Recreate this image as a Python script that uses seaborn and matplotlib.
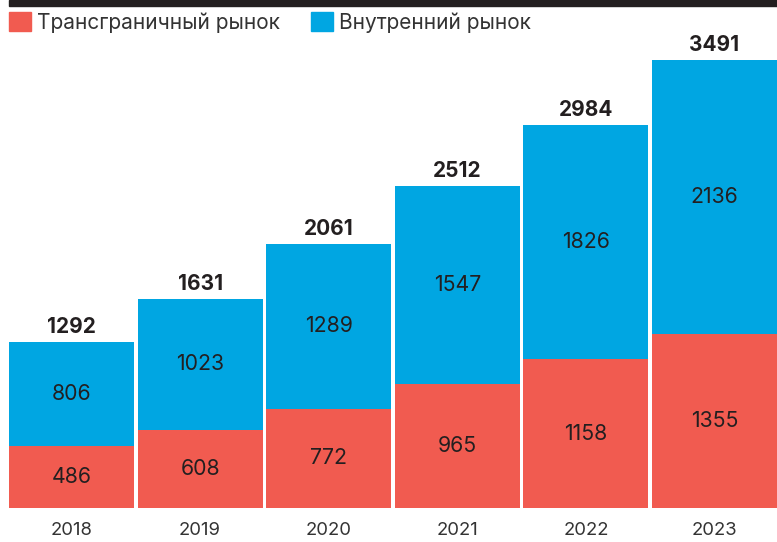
import matplotlib
matplotlib.use("Agg")
import matplotlib.pyplot as plt
import matplotlib.patches as mpatches
import seaborn as sns
import pandas as pd

years = ["2018", "2019", "2020", "2021", "2022", "2023"]
cross_border = [486, 608, 772, 965, 1158, 1355]
domestic = [806, 1023, 1289, 1547, 1826, 2136]
totals = [1292, 1631, 2061, 2512, 2984, 3491]
series_names = ["Трансграничный рынок", "Внутренний рынок"]

RED = "#F15B50"
BLUE = "#00A6E2"
TXT = "#231F20"

sns.set_theme(style="white")
plt.rcParams["font.family"] = ["Inter", "DejaVu Sans"]

df = pd.DataFrame({"year": years, "cross": cross_border, "dom": domestic,
                   "total": [c + d for c, d in zip(cross_border, domestic)]})

W, H = 777, 542
fig = plt.figure(figsize=(W / 100, H / 100), dpi=100)
ax_bottom = 508
ax_top = 8
ax = fig.add_axes([9 / W, 1 - ax_bottom / H, 768 / W, (ax_bottom - ax_top) / H])

sns.barplot(data=df, x="year", y="total", color=BLUE, width=0.972,
            saturation=1, ax=ax, edgecolor="none", linewidth=0)
sns.barplot(data=df, x="year", y="cross", color=RED, width=0.972,
            saturation=1, ax=ax, edgecolor="none", linewidth=0)

ax.set_xlim(-0.486, 5.486)
ax.set_ylim(0, 3491 * (ax_bottom - ax_top) / 448)
px = 3491 / 448  # data units per pixel

for i in range(len(years)):
    c, d, t = cross_border[i], domestic[i], totals[i]
    ax.text(i, c / 2, str(c), ha="center", va="center", fontsize=15.3, color=TXT)
    ax.text(i, c + d / 2, str(d), ha="center", va="center", fontsize=15.3, color=TXT)
    ax.text(i, c + d + 15 * px, str(t), ha="center", va="center", fontsize=15,
            fontweight="bold", color=TXT)

ax.set_xlabel("")
ax.set_ylabel("")
ax.set_yticks([])
ax.tick_params(axis="x", length=0, pad=10, labelsize=13.3, labelcolor="#333333")
for s in ax.spines.values():
    s.set_visible(False)

# top black band
fig.patches.append(mpatches.Rectangle((9 / W, 1 - 6 / H), 768 / W, 6 / H,
                                      transform=fig.transFigure, color=TXT,
                                      zorder=5))

handles = [mpatches.Patch(color=RED), mpatches.Patch(color=BLUE)]
fig.legend(handles, series_names, loc="upper left",
           bbox_to_anchor=(9 / W, 1 - 12 / H), ncol=2, frameon=False,
           fontsize=15, handlelength=1.06, handleheight=1.06,
           handletextpad=0.3, columnspacing=1.45, borderpad=0,
           borderaxespad=0, labelcolor="#333333")

fig.savefig("out.png", dpi=100)
